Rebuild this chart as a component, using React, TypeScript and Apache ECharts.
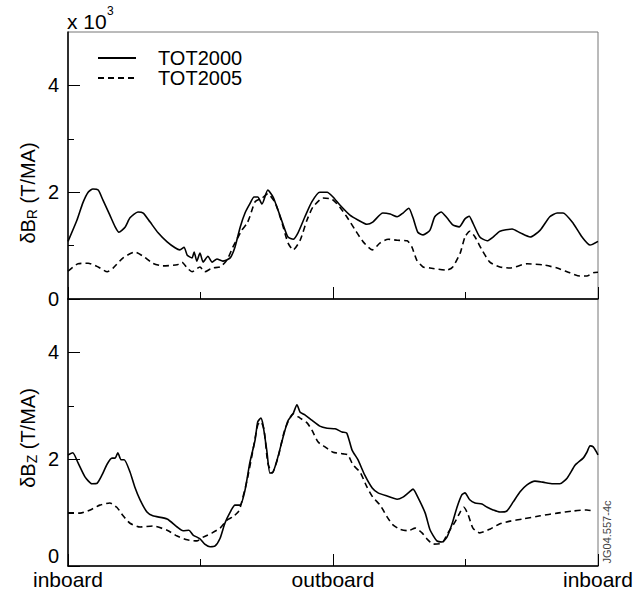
import React, { useEffect, useRef } from "react";
import * as echarts from "echarts";

const FONT = "'Liberation Sans', Arial, Helvetica, sans-serif";

// x positions: percent of the path (0 = inboard, 50 = outboard, 100 = inboard)
const xTickLabels: Record<number, string> = { 0: "inboard", 50: "outboard", 100: "inboard" };
const yMajorTicks = [0, 2, 4];
const yMinorTicks = [1, 3];
const seriesNames = ["TOT2000", "TOT2005"];

// delta B_R (x10^3 T/MA)
const r2000: [number, number][] = [
  [0, 1.08], [1.7, 1.48], [2.8, 1.8], [3.8, 2.0], [4.7, 2.06], [5.7, 2.04], [6.6, 1.85], [7.9, 1.57],
  [8.9, 1.35], [9.6, 1.25], [10.8, 1.35], [11.7, 1.52], [13.2, 1.63], [14.2, 1.61], [15.5, 1.44],
  [17.0, 1.24], [18.7, 1.07], [20.2, 0.96], [21.1, 0.92], [21.9, 0.97], [22.5, 0.82], [23.4, 0.77],
  [23.8, 0.88], [24.3, 0.71], [24.9, 0.86], [25.5, 0.69], [26.4, 0.8], [27.2, 0.69], [28.1, 0.75],
  [29.2, 0.71], [30.6, 0.77], [31.5, 0.97], [32.5, 1.35], [33.4, 1.61], [34.3, 1.78], [35.1, 1.91],
  [35.8, 1.91], [36.6, 1.78], [37.7, 2.04], [38.7, 1.91], [39.6, 1.67], [40.6, 1.39], [41.5, 1.16],
  [42.5, 1.12], [43.4, 1.24], [44.7, 1.54], [46.0, 1.82], [47.5, 2.0], [48.9, 2.0], [50.0, 1.91],
  [51.3, 1.76], [53.2, 1.57], [54.7, 1.48], [56.4, 1.4], [57.5, 1.44], [59.4, 1.61], [60.8, 1.59],
  [62.1, 1.54], [63.2, 1.61], [64.3, 1.7], [65.1, 1.52], [66.0, 1.25], [67.0, 1.2], [68.3, 1.29],
  [69.2, 1.54], [70.4, 1.63], [71.5, 1.52], [72.6, 1.39], [73.8, 1.35], [74.9, 1.5], [75.7, 1.55],
  [76.4, 1.42], [77.7, 1.16], [79.1, 1.09], [80.2, 1.16], [81.5, 1.27], [83.8, 1.31], [85.3, 1.24],
  [87.2, 1.16], [89.1, 1.29], [90.9, 1.54], [92.3, 1.61], [93.4, 1.61], [95.3, 1.42], [97.0, 1.16],
  [98.5, 1.01], [100, 1.08],
];

const r2005: [number, number][] = [
  [0, 0.52], [1.9, 0.66], [3.8, 0.67], [5.7, 0.6], [7.4, 0.51], [8.5, 0.58], [10.4, 0.77], [12.6, 0.88],
  [14.2, 0.8], [16.0, 0.67], [17.9, 0.62], [20.6, 0.64], [21.5, 0.69], [22.5, 0.58], [23.4, 0.51],
  [24.9, 0.6], [25.8, 0.51], [27.2, 0.58], [28.7, 0.6], [30.0, 0.73], [31.1, 0.97], [32.8, 1.29],
  [33.8, 1.42], [34.3, 1.54], [35.3, 1.82], [36.6, 1.89], [37.7, 1.97], [39.1, 1.8], [40.4, 1.42],
  [41.5, 1.05], [42.5, 0.92], [43.8, 1.1], [45.1, 1.48], [46.2, 1.72], [48.1, 1.89], [49.8, 1.87],
  [51.3, 1.72], [52.6, 1.54], [54.2, 1.29], [55.7, 1.07], [57.4, 0.92], [58.9, 1.05], [60.4, 1.12],
  [62.1, 1.1], [64.0, 1.09], [64.9, 0.97], [65.8, 0.73], [67.0, 0.6], [68.3, 0.58], [71.5, 0.54],
  [72.6, 0.6], [74.0, 0.86], [74.9, 1.16], [75.8, 1.27], [76.8, 1.16], [78.1, 0.92], [79.6, 0.69],
  [81.5, 0.6], [83.4, 0.58], [86.6, 0.66], [89.6, 0.64], [92.3, 0.58], [94.7, 0.49], [96.6, 0.43],
  [97.9, 0.43], [99.1, 0.49], [100, 0.5],
];

// delta B_Z (x10^3 T/MA)
const z2000: [number, number][] = [
  [0, 2.08], [0.9, 2.12], [1.9, 1.93], [3.2, 1.67], [4.5, 1.54], [5.5, 1.55], [6.4, 1.7], [7.4, 1.91],
  [8.3, 2.02], [8.9, 2.02], [9.4, 2.12], [10.0, 1.99], [10.6, 1.99], [11.7, 1.76], [12.6, 1.48],
  [13.6, 1.24], [14.9, 1.01], [16.0, 0.94], [18.7, 0.88], [20.6, 0.73], [21.7, 0.66], [22.8, 0.67],
  [23.6, 0.58], [24.9, 0.51], [25.8, 0.41], [26.8, 0.36], [27.7, 0.37], [28.7, 0.52], [29.6, 0.8],
  [30.6, 1.01], [31.5, 1.14], [32.5, 1.14], [33.4, 1.42], [34.3, 1.93], [35.3, 2.36], [35.8, 2.7],
  [36.4, 2.77], [36.8, 2.64], [37.5, 2.17], [38.1, 1.74], [38.7, 1.76], [39.6, 2.04], [40.6, 2.42],
  [41.5, 2.72], [42.5, 2.86], [43.2, 3.02], [43.8, 2.88], [44.7, 2.83], [46.0, 2.73], [47.5, 2.62],
  [48.9, 2.58], [50.4, 2.57], [51.7, 2.51], [52.6, 2.49], [53.6, 2.17], [54.7, 1.99], [56.0, 1.7],
  [57.4, 1.46], [58.5, 1.37], [60.2, 1.31], [62.1, 1.25], [63.2, 1.29], [64.2, 1.37], [65.1, 1.44],
  [66.0, 1.29], [67.4, 0.99], [68.3, 0.68], [69.6, 0.47], [70.6, 0.45], [71.5, 0.54], [72.5, 0.8],
  [73.4, 1.1], [74.3, 1.33], [74.9, 1.37], [75.8, 1.24], [76.8, 1.18], [78.1, 1.16], [79.1, 1.1],
  [80.2, 1.05], [81.5, 1.01], [82.8, 1.03], [84.0, 1.2], [85.3, 1.39], [86.6, 1.52], [88.1, 1.59],
  [89.6, 1.57], [91.5, 1.54], [92.8, 1.54], [94.2, 1.65], [95.7, 1.89], [97.2, 2.02], [97.9, 2.13],
  [98.5, 2.25], [99.1, 2.23], [99.8, 2.12], [100, 2.08],
];

const z2005: [number, number][] = [
  [0, 0.99], [2.3, 0.99], [4.2, 1.05], [6.0, 1.14], [7.9, 1.18], [9.2, 1.1], [10.4, 0.94], [11.7, 0.8],
  [13.6, 0.73], [16.0, 0.75], [18.7, 0.67], [20.6, 0.56], [22.5, 0.49], [24.3, 0.47], [25.5, 0.54],
  [27.2, 0.62], [28.7, 0.71], [30.0, 0.86], [31.1, 0.92], [32.1, 1.01], [32.5, 1.1], [33.8, 1.61],
  [34.9, 2.17], [35.8, 2.64], [36.4, 2.7], [37.0, 2.55], [37.7, 1.93], [38.5, 1.74], [39.6, 2.02],
  [40.9, 2.55], [42.5, 2.85], [43.8, 2.77], [45.1, 2.68], [46.0, 2.55], [47.2, 2.32], [48.5, 2.23],
  [50.0, 2.13], [51.9, 2.1], [52.8, 2.08], [53.8, 1.89], [55.1, 1.76], [56.4, 1.48], [57.5, 1.29],
  [58.9, 1.14], [60.2, 0.92], [61.3, 0.77], [62.6, 0.69], [64.2, 0.66], [65.5, 0.71], [66.8, 0.62],
  [67.9, 0.49], [68.9, 0.41], [70.6, 0.43], [71.7, 0.62], [73.0, 0.82], [74.0, 1.01], [74.7, 1.1],
  [75.5, 0.96], [76.4, 0.71], [77.7, 0.62], [79.6, 0.69], [81.5, 0.79], [83.4, 0.84], [85.8, 0.88],
  [89.1, 0.94], [92.3, 0.99], [95.3, 1.03], [97.9, 1.05], [99.1, 1.03],
];

const BLACK = "#000";
const axisLine = { show: true, onZero: false, lineStyle: { color: BLACK, width: 1.5 } };

function makeXAxis(gridIndex: number, showLabels: boolean) {
  return {
    gridIndex,
    type: "value",
    min: 0,
    max: 100,
    interval: 50,
    axisLine,
    axisTick: { show: true, inside: true, length: 12, lineStyle: { color: BLACK, width: 1 } },
    minorTick: { show: true, splitNumber: 2, length: 7, lineStyle: { color: BLACK, width: 1 } },
    splitLine: { show: false },
    minorSplitLine: { show: false },
    axisLabel: {
      show: showLabels,
      showMinLabel: true,
      showMaxLabel: true,
      formatter: (v: number) => xTickLabels[v] ?? "",
      fontSize: 21,
      fontFamily: FONT,
      color: BLACK,
      margin: 3,
    },
  };
}

function makeYAxes(gridIndex: number, bottomAlignMin: boolean) {
  return [
    {
      gridIndex,
      type: "value",
      min: 0,
      max: 5,
      position: "left",
      axisLine,
      axisTick: { show: true, inside: true, length: 12, customValues: yMajorTicks, lineStyle: { color: BLACK, width: 1 } },
      axisLabel: {
        customValues: yMajorTicks,
        fontSize: 20,
        fontFamily: FONT,
        color: BLACK,
        margin: 9,
        ...(bottomAlignMin ? { verticalAlignMinLabel: "bottom" } : {}),
      },
      splitLine: { show: false },
    },
    {
      gridIndex,
      type: "value",
      min: 0,
      max: 5,
      position: "left",
      axisLine: { show: false },
      axisTick: { show: true, inside: true, length: 6, customValues: yMinorTicks, lineStyle: { color: BLACK, width: 1 } },
      axisLabel: { show: false },
      splitLine: { show: false },
    },
  ];
}

function makeSeries(name: string, data: [number, number][], axis: number, dashed: boolean) {
  return {
    type: "line",
    name,
    xAxisIndex: axis,
    yAxisIndex: axis * 2,
    data,
    symbol: "none",
    showSymbol: false,
    smooth: 0.2,
    lineStyle: { color: BLACK, width: 1.6, type: dashed ? [6, 4] : "solid" },
    itemStyle: { color: BLACK },
    z: 3,
  };
}

function plainText(text: string, x: number, y: number, fontSize: number, align: string, fill = BLACK, rotation = 0) {
  return {
    type: "text",
    x,
    y,
    rotation,
    style: {
      text,
      fontSize,
      fontFamily: FONT,
      fill,
      align,
      verticalAlign: "middle",
      textAlign: align,
      textVerticalAlign: "middle",
    },
  };
}

export default function App() {
  const ref = useRef<HTMLDivElement>(null);
  useEffect(() => {
    const chart = echarts.init(ref.current!, null, { renderer: "svg" });
    const option: any = {
      animation: false,
      backgroundColor: "#fff",
      grid: [
        { left: 68, top: 32, width: 530, height: 267, show: true, borderColor: "#777", borderWidth: 1 },
        { left: 68, top: 299, width: 530, height: 267, show: true, borderColor: "#777", borderWidth: 1 },
      ],
      xAxis: [makeXAxis(0, false), makeXAxis(1, true)],
      yAxis: [...makeYAxes(0, false), ...makeYAxes(1, true)],
      legend: {
        data: seriesNames,
        orient: "vertical",
        left: 97,
        top: 48,
        padding: 0,
        itemWidth: 38,
        itemHeight: 12,
        itemGap: 0,
        selectedMode: false,
        itemStyle: { opacity: 0 },
        textStyle: { fontSize: 20, fontFamily: FONT, color: BLACK, lineHeight: 20, padding: [0, 0, 0, 17] },
      },
      graphic: [
        plainText("x 10", 67, 21.5, 21, "left"),
        plainText("3", 107, 11, 12, "left"),
        {
          type: "text",
          x: 28,
          y: 193,
          rotation: Math.PI / 2,
          style: {
            text: "{m|δB}{s|R}{m| (T/MA)}",
            rich: {
              m: { fontSize: 20, fontFamily: FONT, fill: BLACK, lineHeight: 22 },
              s: { fontSize: 14, fontFamily: FONT, fill: BLACK, verticalAlign: "bottom", lineHeight: 14 },
            },
            align: "center",
            verticalAlign: "middle",
            textAlign: "center",
            textVerticalAlign: "middle",
          },
        },
        {
          type: "text",
          x: 28,
          y: 438,
          rotation: Math.PI / 2,
          style: {
            text: "{m|δB}{s|Z}{m| (T/MA)}",
            rich: {
              m: { fontSize: 20, fontFamily: FONT, fill: BLACK, lineHeight: 22 },
              s: { fontSize: 14, fontFamily: FONT, fill: BLACK, verticalAlign: "bottom", lineHeight: 14 },
            },
            align: "center",
            verticalAlign: "middle",
            textAlign: "center",
            textVerticalAlign: "middle",
          },
        },
        plainText("JG04.557-4c", 607, 532, 11, "center", "#444", Math.PI / 2),
      ],
      series: [
        makeSeries(seriesNames[0], r2000, 0, false),
        makeSeries(seriesNames[1], r2005, 0, true),
        makeSeries(seriesNames[0], z2000, 1, false),
        makeSeries(seriesNames[1], z2005, 1, true),
      ],
    };
    chart.setOption(option);
    return () => chart.dispose();
  }, []);
  return (
    <div
      ref={ref}
      style={{ position: "absolute", left: 0, top: 0, width: 643, height: 594, background: "#fff" }}
    />
  );
}
